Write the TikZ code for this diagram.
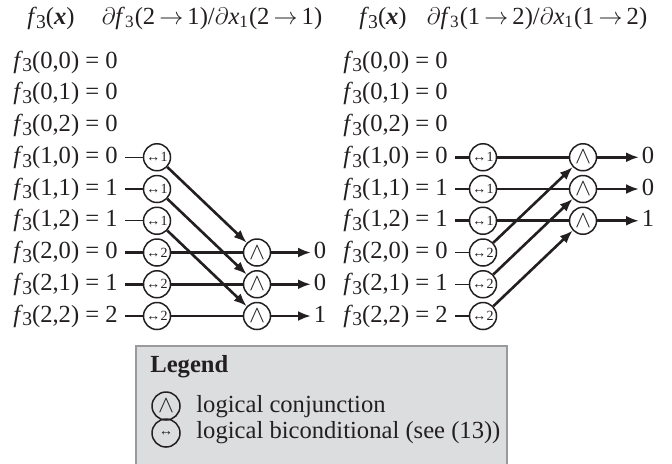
\documentclass[tikz,border=0pt]{standalone}
\usepackage{fontspec}
\setmainfont{Liberation Serif}
\usetikzlibrary{arrows.meta}
\definecolor{ink}{HTML}{231F20}
\definecolor{legfill}{HTML}{DCDDDF}
\definecolor{legdraw}{HTML}{9A9A9C}
\newcommand{\fthree}{\textit{f}\kern-0.4pt\raisebox{-0.35ex}{\fontsize{9.8}{9.8}\selectfont 3}}
\newcommand{\bicsym}[1]{↔\kern0.1pt#1}
\begin{document}
\begin{tikzpicture}[x=0.5pt,y=-0.5pt,
  every node/.style={text=ink, font=\fontsize{12.3}{14}\selectfont},
  lbl/.style={anchor=west, inner sep=0pt, text height=9pt, text depth=3pt},
  outlbl/.style={anchor=west, inner sep=1.2pt, text height=9pt, text depth=3pt},
  bic/.style={circle, draw=ink, line width=0.75pt, minimum size=13.5pt, inner sep=0pt, font=\fontsize{7}{7}\selectfont},
  conj/.style={circle, draw=ink, line width=0.75pt, minimum size=13.5pt, inner sep=0pt, font=\fontsize{13}{13}\selectfont},
  thickline/.style={draw=ink, line width=1.3pt},
  stubline/.style={draw=ink, line width=0.7pt, shorten <=3.5pt},
  stubthick/.style={draw=ink, line width=1.3pt, shorten <=3.5pt},
  arr/.style={draw=ink, line width=1.3pt, -{Latex[length=6.5pt,width=5pt]}}
]
\useasboundingbox (0,0) rectangle (672,463);

% headers
\node (hl1) at (51,18) {\fthree(\textit{\textbf{x}})};
\node (hl2) at (212,18) {$\partial$\textit{f}\textsubscript{3}(2\,$\rightarrow$\,1)/$\partial$\textit{x}\textsubscript{1}(2\,$\rightarrow$\,1)};
\node (hr1) at (383,18) {\fthree(\textit{\textbf{x}})};
\node (hr2) at (537,18) {$\partial$\textit{f}\textsubscript{3}(1\,$\rightarrow$\,2)/$\partial$\textit{x}\textsubscript{1}(1\,$\rightarrow$\,2)};

% row labels
\foreach \k/\a/\b/\v in {0/0/0/0,1/0/1/0,2/0/2/0,3/1/0/0,4/1/1/1,5/1/2/1,6/2/0/0,7/2/1/1,8/2/2/2}{
  \node[lbl] (L\k) at (13,62+31.75*\k) {\fthree(\a,\b) = \v};
  \node[lbl] (R\k) at (343,62+31.75*\k) {\fthree(\a,\b) = \v};
}

% left diagram
\foreach \k in {3,4,5}{
  \node[bic] (Lb\k) at (157,62+31.75*\k) {\bicsym{1}};
  \draw[stubline] (L\k) -- (Lb\k);
}
\foreach \k/\o in {6/0,7/0,8/1}{
  \node[bic] (Lb\k) at (157,62+31.75*\k) {\bicsym{2}};
  \node[conj] (Lc\k) at (257,62+31.75*\k) {$\wedge$};
  \node[outlbl] (Lo\k) at (311,62+31.75*\k) {\o};
  \draw[stubthick] (L\k) -- (Lb\k);
  \draw[thickline] (Lb\k) -- (Lc\k);
  \draw[arr] (Lc\k) -- (Lo\k);
}
\draw[arr] (Lb3) -- (Lc6);
\draw[arr] (Lb4) -- (Lc7);
\draw[arr] (Lb5) -- (Lc8);

% right diagram
\foreach \k/\o in {3/0,4/0,5/1}{
  \node[bic] (Rb\k) at (483,62+31.75*\k) {\bicsym{1}};
  \node[conj] (Rc\k) at (583,62+31.75*\k) {$\wedge$};
  \node[outlbl] (Ro\k) at (639,62+31.75*\k) {\o};
  \draw[stubthick] (R\k) -- (Rb\k);
  \draw[thickline] (Rb\k) -- (Rc\k);
  \draw[arr] (Rc\k) -- (Ro\k);
}
\foreach \k in {6,7,8}{
  \node[bic] (Rb\k) at (483,62+31.75*\k) {\bicsym{2}};
  \draw[stubline] (R\k) -- (Rb\k);
}
\draw[arr] (Rb6) -- (Rc3);
\draw[arr] (Rb7) -- (Rc4);
\draw[arr] (Rb8) -- (Rc5);

% legend
\filldraw[fill=legfill, draw=legdraw, line width=0.8pt] (136,346) rectangle (507,472);
\node[anchor=west, inner sep=0pt, font=\fontsize{12.3}{14}\selectfont\bfseries] (legt) at (150,367) {Legend};
\node[conj, minimum size=14pt] (legc) at (166,406) {$\wedge$};
\node[lbl] (legct) at (196,406) {logical conjunction};
\node[bic, minimum size=14pt] (legb) at (166,433) {↔};
\node[lbl] (legbt) at (196,432) {logical biconditional (see (13))};
\end{tikzpicture}
\end{document}
